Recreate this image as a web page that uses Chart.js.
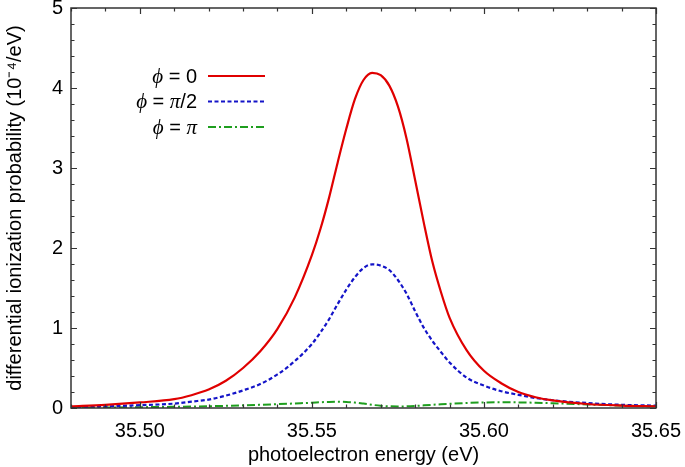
<!DOCTYPE html>
<html>
<head>
<meta charset="utf-8">
<script src="https://cdn.jsdelivr.net/npm/chart.js@4/dist/chart.umd.min.js"></script>
<style>
html,body{margin:0;padding:0;background:#fff;}
#wrap{width:685px;height:467px;}
</style>
</head>
<body>
<div id="wrap"><canvas id="myChart" width="685" height="467"></canvas></div>
<script>
'use strict';
// photoelectron energy (eV)
let energy=[35.480,35.490,35.500,35.510,35.515,35.520,35.525,35.530,35.535,35.540,35.545,35.550,
35.5525,35.555,35.5575,35.560,35.5625,35.565,35.5675,35.570,35.5725,35.575,35.5775,35.580,35.5825,
35.585,35.5875,35.590,35.595,35.600,35.605,35.610,35.615,35.620,35.630,35.640,35.650];
// differential ionization probability (1e-4 / eV)
let phi0=[0.02,0.04,0.07,0.11,0.16,0.23,0.34,0.50,0.71,0.99,1.38,1.91,
2.24,2.63,3.07,3.49,3.86,4.10,4.19,4.16,4.03,3.77,3.37,2.85,2.32,
1.83,1.45,1.13,0.72,0.465,0.31,0.20,0.135,0.095,0.05,0.03,0.02];
let phiHalfPi=[0.01,0.02,0.035,0.055,0.08,0.105,0.155,0.22,0.30,0.42,0.585,0.80,
0.945,1.11,1.30,1.48,1.635,1.75,1.795,1.78,1.725,1.60,1.43,1.21,1.005,
0.84,0.70,0.57,0.38,0.28,0.21,0.165,0.125,0.097,0.062,0.04,0.03];
let phiPi=[0.003,0.006,0.01,0.015,0.018,0.022,0.027,0.033,0.04,0.048,0.057,0.066,
0.072,0.076,0.078,0.076,0.068,0.055,0.04,0.028,0.021,0.019,0.021,0.026,0.033,
0.04,0.047,0.053,0.063,0.069,0.071,0.07,0.066,0.06,0.045,0.03,0.02];
let seriesLabels=['ϕ = 0','ϕ = π/2','ϕ = π'];
let xMajor=0.05;
let yMajor=1;

function pts(arr)
{
    let out=[];
    for(let i=0;i<energy.length;i++)
    {
        out.push({x:energy[i],y:arr[i]});
    }
    return out;
}

let sansFont='"Liberation Sans", Arial, Helvetica, sans-serif';
let greekFont='italic 21px "Liberation Serif", "DejaVu Serif", serif';

function isMajor(v,step)
{
    let r=v/step;
    return Math.abs(r-Math.round(r))<1e-6;
}

// frame with inward ticks on all four sides, like gnuplot
let frameTicks={
    id:'frameTicks',
    afterDatasetsDraw(chart)
    {
        let ctx=chart.ctx;
        let a=chart.chartArea;
        let xs=chart.scales.x;
        let ys=chart.scales.y;
        ctx.save();
        ctx.strokeStyle='#333';
        ctx.lineWidth=1.2;
        ctx.beginPath();
        xs.ticks.forEach(function(t){
            let px=Math.round(xs.getPixelForValue(t.value))+0.5;
            let len=isMajor(t.value,xMajor)?6:3.5;
            ctx.moveTo(px,a.bottom);ctx.lineTo(px,a.bottom-len);
            ctx.moveTo(px,a.top);ctx.lineTo(px,a.top+len);
        });
        ys.ticks.forEach(function(t){
            let py=Math.round(ys.getPixelForValue(t.value))+0.5;
            let len=isMajor(t.value,yMajor)?6:3.5;
            ctx.moveTo(a.left,py);ctx.lineTo(a.left+len,py);
            ctx.moveTo(a.right,py);ctx.lineTo(a.right-len,py);
        });
        ctx.stroke();
        ctx.lineWidth=1.5;
        ctx.strokeRect(a.left,a.top,a.right-a.left,a.bottom-a.top);
        ctx.restore();
    }
};

// legend: text on the left, line sample on the right
let sideLegend={
    id:'sideLegend',
    afterDraw(chart)
    {
        let ctx=chart.ctx;
        let a=chart.chartArea;
        let textRight=a.left+126;
        let lineL=a.left+137;
        let lineR=a.left+194;
        ctx.save();
        chart.data.datasets.forEach(function(ds,i){
            let y=a.top+68+i*25.5;
            // split into runs: greek letters italic serif
            let runs=[];
            for(let ch of ds.label)
            {
                let greek=/[ϕφπ]/.test(ch);
                let last=runs[runs.length-1];
                if(last && last.greek===greek){last.t+=ch;}
                else{runs.push({t:ch,greek:greek});}
            }
            let widths=runs.map(function(r){
                ctx.font=r.greek?greekFont:'20px '+sansFont;
                return ctx.measureText(r.t).width;
            });
            let total=widths.reduce(function(s,w){return s+w;},0);
            let x=textRight-total;
            ctx.fillStyle='#000';
            ctx.textBaseline='middle';
            ctx.textAlign='left';
            runs.forEach(function(r,k){
                ctx.font=r.greek?greekFont:'20px '+sansFont;
                ctx.fillText(r.t,x,y+1);
                x+=widths[k];
            });
            ctx.strokeStyle=ds.borderColor;
            ctx.lineWidth=ds.borderWidth;
            ctx.setLineDash(ds.borderDash||[]);
            ctx.beginPath();
            ctx.moveTo(lineL,y);ctx.lineTo(lineR,y);
            ctx.stroke();
        });
        ctx.restore();
    }
};

function noPad(scale)
{
    scale.paddingTop=0;scale.paddingBottom=0;
    scale.paddingLeft=0;scale.paddingRight=0;
}

let ctx=document.getElementById('myChart').getContext('2d');
let myChart=new Chart(ctx,{
    type:'line',
    data:{
        datasets:[{
            label:seriesLabels[0],
            data:pts(phi0),
            borderColor:'#e00000',
            borderWidth:2.2,
            pointRadius:0,
            fill:false,
            cubicInterpolationMode:'monotone'
        },{
            label:seriesLabels[1],
            data:pts(phiHalfPi),
            borderColor:'#1414c8',
            borderWidth:2.2,
            borderDash:[4,2.5],
            pointRadius:0,
            fill:false,
            cubicInterpolationMode:'monotone'
        },{
            label:seriesLabels[2],
            data:pts(phiPi),
            borderColor:'#1e9e1e',
            borderWidth:2,
            borderDash:[8,3,2,3],
            pointRadius:0,
            fill:false,
            cubicInterpolationMode:'monotone'
        }]
    },
    options:{
        responsive:false,
        animation:false,
        devicePixelRatio:1,
        layout:{padding:{top:8,right:29,left:0,bottom:0}},
        plugins:{
            legend:{display:false},
            tooltip:{enabled:false}
        },
        scales:{
            x:{
                type:'linear',
                min:35.48,
                max:35.65,
                grid:{display:false,drawTicks:false},
                border:{display:false},
                ticks:{
                    stepSize:0.01,
                    autoSkip:false,
                    maxRotation:0,
                    padding:11,
                    color:'#000',
                    font:{family:sansFont,size:20},
                    callback:function(v){return isMajor(v,xMajor)?v.toFixed(2):'';}
                },
                title:{
                    display:true,
                    text:'photoelectron energy (eV)',
                    color:'#000',
                    font:{family:sansFont,size:20},
                    padding:0
                },
                afterFit:function(s){s.height=59;noPad(s);}
            },
            y:{
                min:0,
                max:5,
                grid:{display:false,drawTicks:false},
                border:{display:false},
                ticks:{
                    stepSize:0.2,
                    autoSkip:false,
                    padding:8,
                    color:'#000',
                    font:{family:sansFont,size:20},
                    callback:function(v){return isMajor(v,yMajor)?Math.round(v).toString():'';}
                },
                title:{
                    display:true,
                    text:'differential ionization probability (10⁻⁴/eV)',
                    color:'#000',
                    font:{family:sansFont,size:20},
                    padding:{top:3,bottom:0}
                },
                afterFit:function(s){s.width=71;noPad(s);}
            }
        }
    },
    plugins:[frameTicks,sideLegend]
});
</script>
</body>
</html>
